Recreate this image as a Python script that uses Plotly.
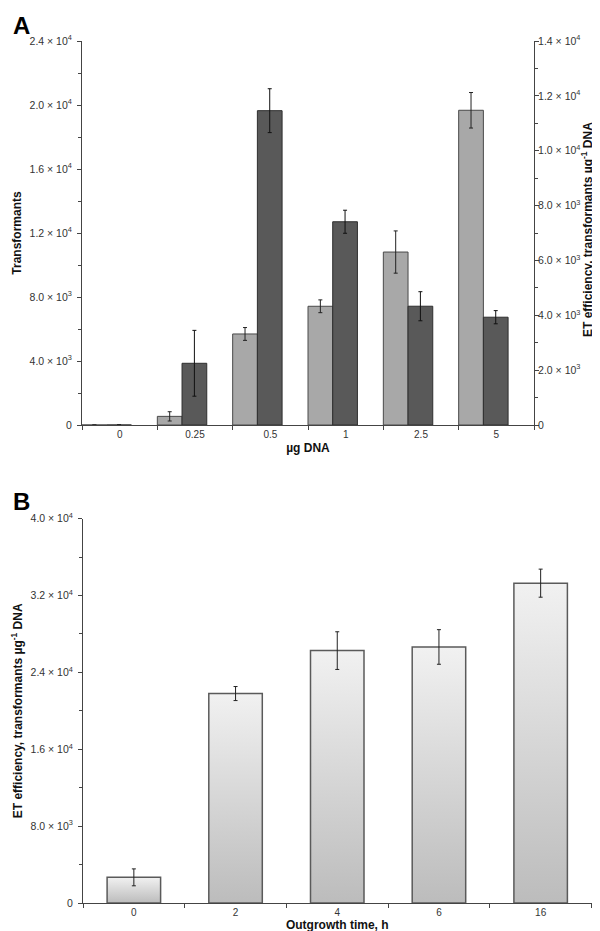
import math
import plotly.graph_objects as go

# Panel A: transformants (left axis) and ET efficiency (right axis) vs DNA amount
doses = ["0", "0.25", "0.5", "1", "2.5", "5"]
transformants = [0, 540, 5690, 7420, 10810, 19670]
transformants_err = [0, 290, 400, 400, 1320, 1110]
efficiency_a = [0, 2250, 11460, 7410, 4330, 3930]
efficiency_a_err = [0, 1200, 800, 420, 530, 240]

# Panel B: ET efficiency vs outgrowth time
outgrowth = ["0", "2", "4", "6", "16"]
efficiency_b = [2670, 21800, 26270, 26650, 33290]
efficiency_b_err = [880, 730, 1960, 1800, 1460]

# axis ticks
ticks_left_a = [0, 4000, 8000, 12000, 16000, 20000, 24000]
ticks_right_a = [0, 2000, 4000, 6000, 8000, 10000, 12000, 14000]
ticks_left_b = [0, 8000, 16000, 24000, 32000, 40000]

FONT = "Liberation Sans, Arial, sans-serif"
W, H = 600, 931
EFF_TITLE = "ET efficiency, transformants µg<sup>-1</sup> DNA"


def sci(v):
    if v == 0:
        return "0"
    e = int(math.floor(math.log10(v)))
    return f"{v / 10 ** e:.1f} × 10<sup>{e}</sup>"


fig = go.Figure()

# ---- panel A bars
bw = 0.328
fig.add_trace(go.Bar(
    x=doses, y=transformants, xaxis="x", yaxis="y",
    offset=-0.5, width=bw,
    marker=dict(color="#a8a8a8", line=dict(color="#4a4a4a", width=1)),
    error_y=dict(type="data", array=transformants_err, color="#222", thickness=1, width=2),
    showlegend=False,
))
fig.add_trace(go.Bar(
    x=doses, y=efficiency_a, xaxis="x", yaxis="y2",
    offset=-0.5 + bw, width=bw,
    marker=dict(color="#595959", line=dict(color="#2e2e2e", width=1)),
    error_y=dict(type="data", array=efficiency_a_err, color="#111", thickness=1, width=2),
    showlegend=False,
))

# ---- panel B bars (gradient-filled outlines)
hw = 0.263
for i, v in enumerate(efficiency_b):
    fig.add_trace(go.Scatter(
        x=[i - hw, i + hw, i + hw, i - hw, i - hw],
        y=[0, 0, v, v, 0],
        xaxis="x2", yaxis="y3",
        mode="lines", fill="toself",
        fillgradient=dict(type="vertical",
                          colorscale=[[0, "#bcbcbc"], [1, "#f1f1f1"]]),
        line=dict(color="#5a5a5a", width=1.5),
        hoverinfo="skip", showlegend=False,
    ))
fig.add_trace(go.Scatter(
    x=list(range(len(outgrowth))), y=efficiency_b,
    xaxis="x2", yaxis="y3", mode="markers",
    marker=dict(size=1, color="rgba(0,0,0,0)"),
    error_y=dict(type="data", array=efficiency_b_err, color="#222", thickness=1, width=2),
    showlegend=False,
))

ytickfont = dict(family=FONT, size=10.5, color="#333")
xtickfont = dict(family=FONT, size=10, color="#333")
titlefont = dict(family=FONT, size=12, color="#111", weight="bold")
axis_common = dict(showline=True, linecolor="#444", linewidth=1, showgrid=False,
                   zeroline=False, ticks="outside", ticklen=4, tickcolor="#444",
                   automargin=False)

fig.update_layout(
    width=W, height=H,
    margin=dict(l=0, r=0, t=0, b=0),
    paper_bgcolor="white", plot_bgcolor="white",
    barmode="overlay",
    font=dict(family=FONT),
    xaxis=dict(domain=[74 / W, 526 / W], anchor="y", type="category",
               categoryorder="array", categoryarray=doses,
               tickson="boundaries", tickfont=xtickfont,
               title=dict(text="µg DNA", font=titlefont, standoff=4),
               **axis_common),
    yaxis=dict(domain=[1 - 417 / H, 1 - 33 / H], anchor="x", range=[0, 24000],
               tickmode="array", tickvals=ticks_left_a,
               ticktext=[sci(v) for v in ticks_left_a], tickfont=ytickfont,
               ticklabelstandoff=3,
               minor=dict(dtick=2000, tick0=0, ticks="outside", ticklen=3, tickcolor="#444"),
               title=dict(text="Transformants", font=titlefont, standoff=5),
               **axis_common),
    yaxis2=dict(overlaying="y", anchor="x", side="right", range=[0, 14000],
                tickmode="array", tickvals=ticks_right_a,
                ticktext=[sci(v) for v in ticks_right_a], tickfont=ytickfont,
                ticklabelstandoff=-3,
                minor=dict(dtick=1000, tick0=0, ticks="outside", ticklen=3, tickcolor="#444"),
                **axis_common),
    xaxis2=dict(domain=[75 / W, 583.5 / W], anchor="y3", range=[-0.5, 4.5],
                tickmode="array", tickvals=list(range(len(outgrowth))),
                ticktext=outgrowth, tickfont=xtickfont,
                minor=dict(tickmode="array",
                           tickvals=[i - 0.5 for i in range(len(outgrowth) + 1)],
                           ticks="outside", ticklen=4, tickcolor="#444"),
                title=dict(text="Outgrowth time, h", font=titlefont, standoff=1),
                **{**axis_common, "ticks": ""}),
    yaxis3=dict(domain=[1 - 895 / H, 1 - 510.7 / H], anchor="x2", range=[0, 40000],
                tickmode="array", tickvals=ticks_left_b,
                ticktext=[sci(v) for v in ticks_left_b], tickfont=ytickfont,
                ticklabelstandoff=3,
                minor=dict(dtick=4000, tick0=0, ticks="outside", ticklen=3, tickcolor="#444"),
                title=dict(text=EFF_TITLE, font=titlefont, standoff=5),
                **axis_common),
    annotations=[
        dict(text="<b>A</b>", x=3 / W, y=1 - 2 / H, xref="paper", yref="paper",
             xanchor="left", yanchor="top", showarrow=False,
             font=dict(family=FONT, size=24, color="black")),
        dict(text="<b>B</b>", x=3 / W, y=1 - 478 / H, xref="paper", yref="paper",
             xanchor="left", yanchor="top", showarrow=False,
             font=dict(family=FONT, size=24, color="black")),
        # right-axis title of panel A, reading bottom to top
        dict(text=EFF_TITLE, x=579 / W, y=1 - 222 / H, xref="paper", yref="paper",
             xanchor="center", yanchor="middle", textangle=-90, showarrow=False,
             font=titlefont),
    ],
)

fig.write_html("out.html")
